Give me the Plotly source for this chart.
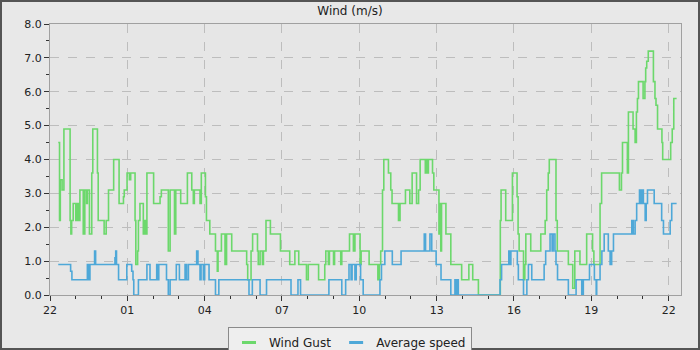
import pandas as pd
import plotly.graph_objects as go

# hours after 22:00 on the first day, and values in m/s (step changes)
gust_hours = [0.32, 0.37, 0.40, 0.47, 0.54, 0.78, 0.81, 0.84, 0.90, 1.00, 1.06, 1.10, 1.16, 1.29, 1.35,
              1.42, 1.45, 1.53, 1.62, 1.66, 1.84, 1.87, 2.10, 2.18, 2.27, 2.47, 2.68, 2.85, 2.88, 2.99,
              3.08, 3.13, 3.30, 3.33, 3.40, 3.43, 3.49, 3.62, 3.66, 3.70, 3.76, 4.02, 4.27, 4.32, 4.59,
              4.66, 4.83, 4.88, 5.07, 5.33, 5.50, 5.56, 5.60, 5.82, 5.87, 6.03, 6.07, 6.20, 6.42, 6.49,
              6.52, 6.65, 6.79, 6.85, 7.05, 7.63, 7.67, 7.80, 7.86, 8.05, 8.08, 8.15, 8.24, 8.28, 8.38,
              8.55, 8.94, 9.30, 9.50, 9.65, 9.95, 10.02, 10.42, 10.66, 10.70, 10.80, 10.84, 11.00, 11.04,
              11.28, 11.32, 11.62, 11.77, 11.83, 12.03, 12.07, 12.38, 12.72, 12.78, 12.83, 12.90, 12.95,
              13.13, 13.22, 13.27, 13.52, 13.58, 13.79, 13.96, 14.05, 14.22, 14.30, 14.36, 14.56, 14.62,
              14.64, 14.68, 14.84, 14.89, 15.09, 15.13, 15.16, 15.19, 15.36, 15.55, 15.97, 16.25, 16.40,
              16.62, 17.47, 17.50, 17.68, 17.94, 18.12, 18.16, 18.20, 18.37, 18.42, 18.46, 18.65, 19.04,
              19.21, 19.27, 19.33, 19.37, 19.63, 19.68, 20.11, 20.28, 20.36, 20.56, 20.82, 21.05, 21.10,
              21.34, 21.40, 22.09, 22.17, 22.21, 22.40, 22.44, 22.62, 22.70, 22.75, 22.79, 22.83, 23.01,
              23.08, 23.11, 23.15, 23.21, 23.41, 23.47, 23.51, 23.57, 23.74, 23.77, 24.08, 24.14, 24.20,
              24.31]
gust_ms = [4.5, 2.2, 3.4, 3.1, 4.9, 2.2, 1.8, 2.2, 2.7, 2.2, 2.7, 2.2, 3.1, 1.8, 3.1,
           2.7, 3.1, 1.8, 3.6, 4.9, 3.6, 2.2, 1.8, 2.2, 3.1, 4.0, 2.7, 2.9, 3.1, 3.6,
           3.4, 3.6, 2.2, 0.9, 1.3, 2.2, 2.7, 1.8, 2.2, 1.8, 3.6, 2.7, 2.9, 3.1, 1.3,
           3.1, 1.8, 3.1, 2.7, 3.6, 3.1, 2.7, 3.1, 2.7, 3.6, 2.9, 2.2, 1.8, 1.3, 0.7,
           1.3, 1.8, 0.9, 1.8, 1.3, 0.9, 0.45, 1.3, 1.8, 1.3, 0.9, 1.3, 0.9, 1.3, 2.2,
           1.8, 1.3, 0.9, 1.3, 0.9, 0.45, 0.9, 0.45, 0.9, 1.3, 0.9, 1.3, 0.9, 1.3,
           0.9, 1.3, 1.8, 1.3, 1.8, 0.9, 1.3, 0.9, 0.45, 0.9, 1.3, 3.1, 4.0,
           3.6, 3.1, 2.7, 2.2, 2.7, 3.1, 2.7, 3.6, 2.7, 3.1, 4.0, 3.6, 4.0,
           3.6, 4.0, 3.6, 3.1, 1.8, 2.7, 1.3, 2.7, 1.8, 0.9, 0.45, 0.9, 0.45,
           0.0, 2.2, 3.1, 2.2, 3.6, 2.9, 1.8, 1.3, 0.45, 0.9, 1.8, 1.3, 1.8,
           2.2, 3.1, 3.6, 4.0, 2.2, 1.3, 0.9, 0.2, 1.3, 0.9, 1.8, 1.3, 0.9,
           2.7, 3.6, 3.1, 3.6, 4.5, 3.6, 5.4, 4.9, 4.5, 5.4, 5.8, 6.3, 5.8,
           6.3, 6.7, 6.9, 7.2, 6.3, 5.8, 5.6, 4.9, 4.5, 4.0, 4.5, 4.9, 5.8,
           5.8]

avg_hours = [0.32, 0.80, 0.85, 1.45, 1.49, 1.55, 1.73, 1.77, 2.52, 2.55, 2.58, 2.66, 2.98, 3.17, 3.22,
             3.25, 3.43, 3.76, 3.88, 4.14, 4.18, 4.22, 4.52, 4.59, 4.66, 4.90, 5.02, 5.24, 5.30, 5.37,
             5.69, 5.74, 5.82, 5.86, 5.95, 6.00, 6.17, 6.42, 6.55, 7.72, 7.85, 8.15, 8.40, 9.35, 9.62,
             9.72, 10.82, 11.32, 11.47, 11.60, 11.68, 11.72, 11.83, 11.88, 12.05, 12.15, 12.80, 12.86,
             12.99, 13.28, 13.62, 14.52, 14.57, 14.74, 14.81, 14.98, 15.17, 15.55, 15.71, 15.77, 15.80,
             15.84, 17.46, 17.52, 17.80, 17.84, 17.88, 18.13, 18.17, 18.37, 18.50, 18.56, 18.69, 19.17,
             19.23, 19.40, 19.48, 19.52, 19.59, 19.63, 19.69, 20.11, 20.41, 20.63, 20.69, 20.93, 21.12,
             21.19, 21.21, 21.34, 21.41, 21.50, 21.66, 21.73, 21.79, 21.86, 22.57, 22.63, 22.70, 22.76,
             22.87, 22.92, 22.96, 23.02, 23.09, 23.13, 23.18, 23.44, 23.73, 23.80, 24.06, 24.12, 24.31]
avg_ms = [0.9, 0.7, 0.45, 0.9, 0.45, 0.9, 1.3, 0.9, 1.1, 1.3, 0.9, 0.45, 0.9, 0.7, 0.45,
          0.0, 0.45, 0.9, 0.45, 0.9, 0.45, 0.9, 0.45, 0.0, 0.45, 0.9, 0.45, 0.9, 0.45, 0.9,
          1.3, 0.9, 0.45, 0.9, 0.45, 0.9, 0.45, 0.0, 0.45, 0.0, 0.45, 0.0, 0.45, 0.0, 0.45,
          0.0, 0.45, 0.0, 0.45, 0.9, 0.45, 0.9, 0.45, 0.9, 0.45, 0.0, 0.45, 0.9,
          1.3, 0.9, 1.3, 1.8, 1.3, 1.8, 1.3, 0.9, 0.45, 0.0, 0.45, 0.0, 0.45,
          0.0, 0.45, 0.9, 1.3, 0.9, 1.3, 0.9, 0.45, 0.0, 0.45, 0.9, 0.45, 0.9,
          1.3, 1.8, 1.3, 1.8, 1.3, 0.9, 0.45, 0.0, 0.45, 0.0, 0.45, 0.9, 0.45,
          0.0, 0.45, 0.9, 1.3, 1.8, 1.3, 0.9, 1.3, 1.8, 2.2, 1.8, 2.2, 2.7,
          3.1, 2.7, 3.1, 2.7, 2.2, 2.7, 3.1, 2.7, 2.2, 1.8, 2.2, 2.7, 2.7]

series_names = ["Wind Gust", "Average speed"]
series_colors = ["#6cd86c", "#4ea8d8"]

base = pd.Timestamp("2024-05-01 22:00")
gx = base + pd.to_timedelta(gust_hours, unit="h")
ax_ = base + pd.to_timedelta(avg_hours, unit="h")
x_end = base + pd.to_timedelta(24.48, unit="h")

fig = go.Figure()
for xs, ys, name, col in [(gx, gust_ms, series_names[0], series_colors[0]),
                          (ax_, avg_ms, series_names[1], series_colors[1])]:
    fig.add_trace(go.Scatter(x=xs, y=ys, mode="lines", line=dict(color=col, width=1.6, shape="hv"),
                             showlegend=False, hoverinfo="skip"))
for name, col in zip(series_names, series_colors):
    fig.add_trace(go.Scatter(x=[None], y=[None], mode="markers", name=name,
                             marker=dict(symbol="line-ew-open", size=10, color=col,
                                         line=dict(color=col, width=3))))

W, H = 700, 350
ml, mr, mt, mb = 50, 19, 24, 55
pw, ph = W - ml - mr, H - mt - mb

fig.update_layout(
    width=W, height=H,
    margin=dict(l=ml, r=mr, t=mt, b=mb, autoexpand=False),
    paper_bgcolor="#e8e8e8", plot_bgcolor="#e6e6e6",
    font=dict(family="DejaVu Sans", size=11, color="#222"),
    title=dict(text="Wind (m/s)", x=0.5, xref="container", xanchor="center",
               y=1 - 11 / H, yanchor="middle", font=dict(size=12, color="#222")),
    legend=dict(orientation="h", x=(350 - ml) / pw, xanchor="center", y=-(327 - 295) / ph, yanchor="top",
                bgcolor="#eeeeee", bordercolor="#8a8a8a", borderwidth=1, font=dict(size=12, color="#222"),
                itemwidth=30, tracegroupgap=0),
    showlegend=True,
)
fig.update_xaxes(type="date", range=[base, x_end], tickformat="%H", tick0=base, dtick=3 * 3600 * 1000,
                 ticks="outside", ticklen=5, tickcolor="#333", showline=True, linecolor="#a0a0a0",
                 mirror=True, showgrid=True, gridcolor="#bdbdbd", griddash="dash", gridwidth=1,
                 zeroline=False, tickfont=dict(size=11, color="#222"),
                 minor=dict(dtick=3600 * 1000, tick0=base, ticks="outside", ticklen=3, tickcolor="#333",
                            showgrid=False))
fig.update_yaxes(range=[0, 8], dtick=1, tickformat=".1f", ticks="outside", ticklen=5, tickcolor="#333",
                 showline=True, linecolor="#a0a0a0", mirror=True, showgrid=True, gridcolor="#bdbdbd",
                 griddash="dash", gridwidth=1, zeroline=False, tickfont=dict(size=11, color="#222"),
                 minor=dict(dtick=0.5, ticks="outside", ticklen=3, tickcolor="#333", showgrid=False))

# outer dark frame around the whole image
fig.add_shape(type="rect", xref="paper", yref="paper",
              x0=-(ml - 1) / pw, x1=1 + (mr - 1) / pw, y0=-(mb - 1) / ph, y1=1 + (mt - 1) / ph,
              line=dict(color="#555555", width=2), fillcolor="rgba(0,0,0,0)", layer="above")

fig.write_html("out.html")
